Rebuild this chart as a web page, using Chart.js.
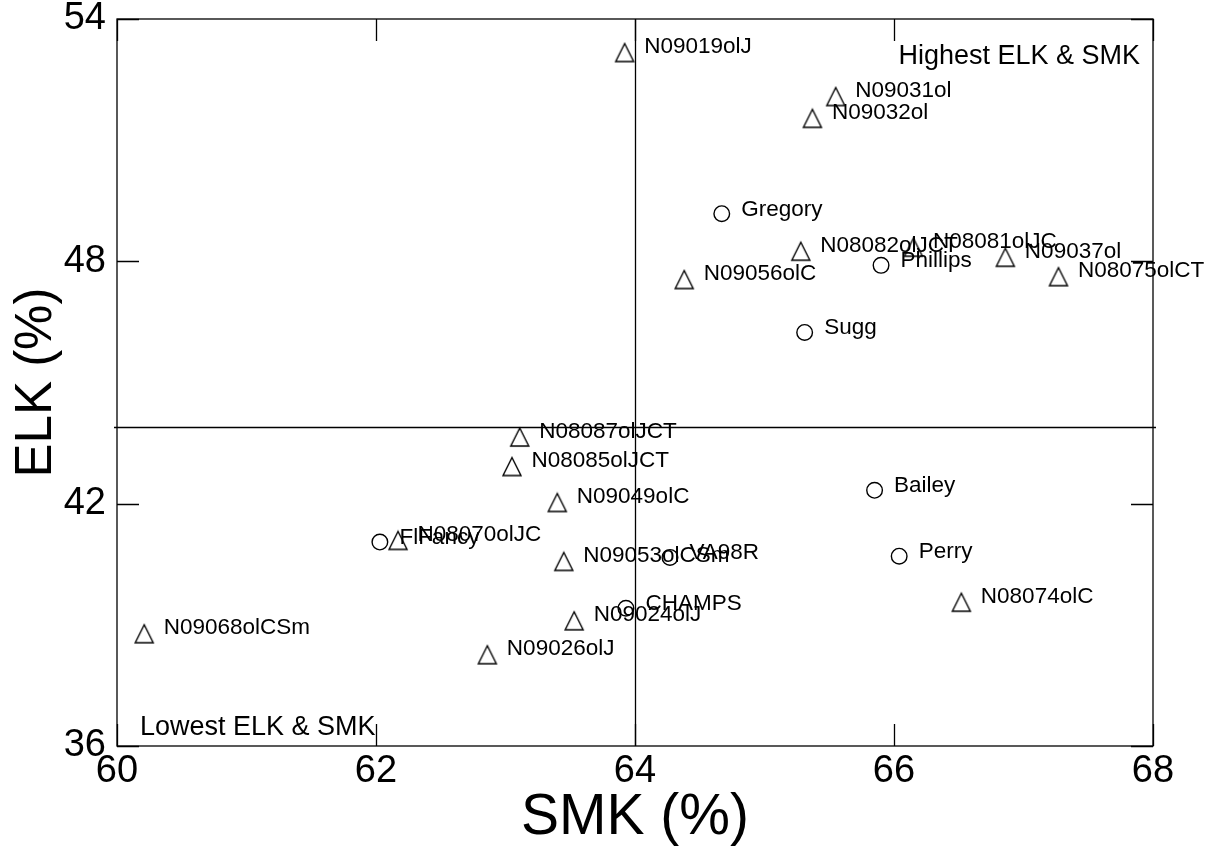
<!DOCTYPE html>
<html>
<head>
<meta charset="utf-8">
<script src="https://cdn.jsdelivr.net/npm/chart.js@4.4.1/dist/chart.umd.min.js"></script>
<style>
  html, body { margin: 0; padding: 0; background: #ffffff; }
  #wrap { width: 1211px; height: 867px; }
</style>
</head>
<body>
<div id="wrap"><canvas id="c" width="1211" height="867"></canvas></div>
<script>
// ---- data ----
const lineNames = ["N09019olJ","N09031ol","N09032ol","N08082olJCT","N08081olJC","N09037ol","N08075olCT","N09056olC","N08087olJCT","N08085olJCT","N09049olC","N08070olJC","N09053olCSm","N09024olJ","N09026olJ","N09068olCSm","N08074olC"];
const lineSMK   = [63.92, 65.55, 65.37, 65.28, 66.15, 66.86, 67.27, 64.38, 63.11, 63.05, 63.40, 62.17, 63.45, 63.53, 62.86, 60.21, 66.52];
const lineELK   = [53.17, 52.08, 51.54, 48.25, 48.35, 48.10, 47.62, 47.55, 43.65, 42.92, 42.03, 41.09, 40.57, 39.10, 38.26, 38.78, 39.56];

const cultivarNames = ["Gregory","Phillips","Sugg","Bailey","Perry","FlFancy","VA98R","CHAMPS"];
const cultivarSMK   = [64.67, 65.90, 65.31, 65.85, 66.04, 62.03, 64.27, 63.93];
const cultivarELK   = [49.18, 47.90, 46.24, 42.33, 40.70, 41.05, 40.67, 39.41];

const xTicks = [60, 62, 64, 66, 68];
const yTicks = [36, 42, 48, 54];
const refSMK = 64;
const refELK = 43.9;
const xTitle = "SMK (%)";
const yTitle = "ELK (%)";
const noteHigh = "Highest ELK & SMK";
const noteLow = "Lowest ELK & SMK";

const FONT = "'Liberation Sans', Arial, sans-serif";

function toPoints(xs, ys) { return xs.map((x, i) => ({ x: x, y: ys[i] })); }

// open triangle marker (slightly taller than equilateral, as in the reference)
const triMarker = (() => {
  const c = document.createElement('canvas');
  c.width = 22; c.height = 22;
  const g = c.getContext('2d');
  g.strokeStyle = '#000';
  g.lineWidth = 1.4;
  g.lineJoin = 'miter';
  g.beginPath();
  g.moveTo(11, 2); g.lineTo(20, 20); g.lineTo(2, 20); g.closePath();
  g.stroke();
  return c;
})();

const decor = {
  id: 'decor',
  afterDatasetsDraw(chart) {
    const ctx = chart.ctx;
    const xs = chart.scales.x, ys = chart.scales.y;
    const a = chart.chartArea;
    ctx.save();
    ctx.strokeStyle = '#000';
    ctx.lineWidth = 1.3;
    // frame
    ctx.strokeRect(a.left, a.top, a.right - a.left, a.bottom - a.top);
    // inward ticks
    const tl = 22;
    ctx.beginPath();
    xTicks.forEach(v => {
      const px = Math.round(xs.getPixelForValue(v)) + 0.5;
      ctx.moveTo(px, a.bottom); ctx.lineTo(px, a.bottom - tl);
      ctx.moveTo(px, a.top); ctx.lineTo(px, a.top + tl);
    });
    yTicks.forEach(v => {
      const py = Math.round(ys.getPixelForValue(v)) + 0.5;
      ctx.moveTo(a.left, py); ctx.lineTo(a.left + tl, py);
      ctx.moveTo(a.right, py); ctx.lineTo(a.right - tl, py);
    });
    ctx.stroke();
    // reference lines
    ctx.beginPath();
    const rx = Math.round(xs.getPixelForValue(refSMK)) + 0.5;
    ctx.moveTo(rx, a.top); ctx.lineTo(rx, a.bottom);
    const ry = Math.round(ys.getPixelForValue(refELK)) + 0.5;
    ctx.moveTo(a.left - 3, ry); ctx.lineTo(a.right + 3, ry);
    ctx.stroke();

    // point labels
    ctx.fillStyle = '#000';
    ctx.font = '22.5px ' + FONT;
    ctx.textAlign = 'left';
    ctx.textBaseline = 'alphabetic';
    const drawLabels = (names, sx, sy, dy) => {
      names.forEach((n, i) => {
        const px = xs.getPixelForValue(sx[i]);
        const py = ys.getPixelForValue(sy[i]);
        ctx.fillText(n, px + 19.5, py + dy);
      });
    };
    drawLabels(lineNames, lineSMK, lineELK, 0.5);
    drawLabels(cultivarNames, cultivarSMK, cultivarELK, 2);

    // quadrant notes
    ctx.font = '27px ' + FONT;
    ctx.textAlign = 'right';
    ctx.fillText(noteHigh, a.right - 13, a.top + 45);
    ctx.textAlign = 'left';
    ctx.fillText(noteLow, a.left + 23, a.bottom - 11);

    // axis titles
    ctx.font = '57px ' + FONT;
    ctx.textAlign = 'center';
    ctx.fillText(xTitle, (a.left + a.right) / 2, 834);
    ctx.font = '51px ' + FONT;
    ctx.save();
    ctx.translate(51, (a.top + a.bottom) / 2);
    ctx.rotate(-Math.PI / 2);
    ctx.fillText(yTitle, 0, 0);
    ctx.restore();
    ctx.restore();
  }
};

new Chart(document.getElementById('c'), {
  type: 'scatter',
  data: {
    datasets: [
      {
        label: 'Lines',
        data: toPoints(lineSMK, lineELK),
        pointStyle: triMarker,
        pointRadius: 10,
        pointHoverRadius: 10,
        borderColor: '#000',
        backgroundColor: 'rgba(0,0,0,0)',
        borderWidth: 1.4
      },
      {
        label: 'Cultivars',
        data: toPoints(cultivarSMK, cultivarELK),
        pointStyle: 'circle',
        pointRadius: 7.8,
        pointHoverRadius: 7.8,
        borderColor: '#000',
        backgroundColor: 'rgba(0,0,0,0)',
        borderWidth: 1.4
      }
    ]
  },
  options: {
    responsive: false,
    animation: false,
    devicePixelRatio: 1,
    events: [],
    layout: { padding: { top: 19, right: 58, left: 0, bottom: 0 } },
    plugins: { legend: { display: false }, tooltip: { enabled: false } },
    scales: {
      x: {
        type: 'linear', min: 60, max: 68,
        afterBuildTicks: s => { s.ticks = xTicks.map(v => ({ value: v })); },
        afterFit: s => { s.height = 121; s.paddingLeft = 0; s.paddingRight = 0; },
        grid: { display: false, drawTicks: false },
        border: { display: false },
        ticks: { color: '#000', padding: 3, maxRotation: 0, font: { family: FONT, size: 38 } }
      },
      y: {
        type: 'linear', min: 36, max: 54,
        afterBuildTicks: s => { s.ticks = yTicks.map(v => ({ value: v })); },
        afterFit: s => { s.width = 117; s.paddingTop = 0; s.paddingBottom = 0; },
        grid: { display: false, drawTicks: false },
        border: { display: false },
        ticks: { color: '#000', padding: 11, font: { family: FONT, size: 38, lineHeight: 1.0 } }
      }
    }
  },
  plugins: [decor]
});
</script>
</body>
</html>
